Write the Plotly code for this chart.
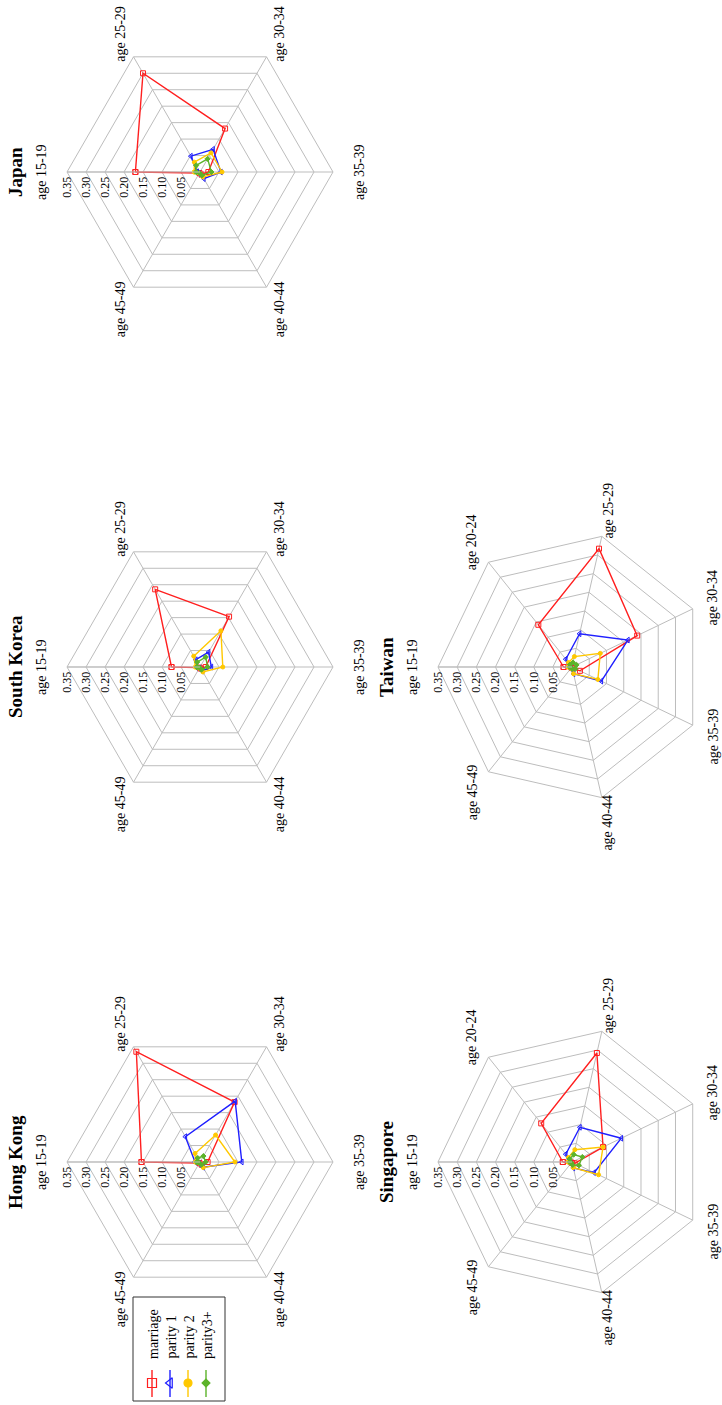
import math
import plotly.graph_objects as go

# ---------------- data ----------------
AGES6 = ["age 15-19", "age 25-29", "age 30-34", "age 35-39", "age 40-44", "age 45-49"]
AGES7 = ["age 15-19", "age 20-24", "age 25-29", "age 30-34", "age 35-39", "age 40-44", "age 45-49"]
SERIES = ["marriage", "parity 1", "parity 2", "parity3+"]
RADIAL_TICKS = [0.05, 0.10, 0.15, 0.20, 0.25, 0.30, 0.35]
RADIAL_LABELS = ["0.05", "0.10", "0.15", "0.20", "0.25", "0.30", "0.35"]

japan_marriage = [0.170, 0.300, 0.132, 0.022, 0.008, 0.003]
japan_parity1 = [0.008, 0.048, 0.069, 0.055, 0.020, 0.005]
japan_parity2 = [0.015, 0.030, 0.058, 0.058, 0.015, 0.004]
japan_parity3 = [0.010, 0.020, 0.040, 0.030, 0.010, 0.003]

korea_marriage = [0.075, 0.236, 0.153, 0.015, 0.005, 0.002]
korea_parity1 = [0.010, 0.022, 0.045, 0.030, 0.012, 0.003]
korea_parity2 = [0.012, 0.033, 0.110, 0.060, 0.015, 0.004]
korea_parity3 = [0.008, 0.015, 0.030, 0.020, 0.008, 0.002]

hk_marriage = [0.154, 0.335, 0.182, 0.020, 0.008, 0.003]
hk_parity1 = [0.013, 0.077, 0.185, 0.110, 0.016, 0.005]
hk_parity2 = [0.012, 0.026, 0.082, 0.092, 0.017, 0.004]
hk_parity3 = [0.008, 0.012, 0.018, 0.015, 0.008, 0.003]

taiwan_marriage = [0.022, 0.141, 0.317, 0.189, 0.023, 0.003, 0.002]
taiwan_parity1 = [0.010, 0.026, 0.089, 0.162, 0.085, 0.018, 0.005]
taiwan_parity2 = [0.010, 0.015, 0.028, 0.082, 0.075, 0.018, 0.005]
taiwan_parity3 = [0.005, 0.008, 0.012, 0.013, 0.010, 0.005, 0.003]

sing_marriage = [0.024, 0.129, 0.292, 0.090, 0.008, 0.003, 0.002]
sing_parity1 = [0.010, 0.026, 0.093, 0.143, 0.064, 0.016, 0.005]
sing_parity2 = [0.010, 0.015, 0.033, 0.090, 0.077, 0.015, 0.005]
sing_parity3 = [0.005, 0.010, 0.020, 0.030, 0.020, 0.008, 0.003]

# ---------------- layout helpers ----------------
W, H = 722, 1405
GRID = "#bdbdbd"
FONT = "Liberation Serif"

COLORS = ["#ff1f1f", "#1f1fff", "#ffc800", "#5cb32a"]
SYMBOLS = ["square-open", "triangle-left-open", "circle", "diamond"]
MSIZE = [5, 5, 4, 4]

panels = [
    dict(name="Japan", ages=AGES6, data=[japan_marriage, japan_parity1, japan_parity2, japan_parity3],
         cx=200, cy=172, R=133),
    dict(name="South Korea", ages=AGES6, data=[korea_marriage, korea_parity1, korea_parity2, korea_parity3],
         cx=200, cy=667, R=133),
    dict(name="Hong Kong", ages=AGES6, data=[hk_marriage, hk_parity1, hk_parity2, hk_parity3],
         cx=200, cy=1162, R=133),
    dict(name="Taiwan", ages=AGES7, data=[taiwan_marriage, taiwan_parity1, taiwan_parity2, taiwan_parity3],
         cx=572, cy=667, R=134),
    dict(name="Singapore", ages=AGES7, data=[sing_marriage, sing_parity1, sing_parity2, sing_parity3],
         cx=572, cy=1162, R=134),
]


def px(x):
    return x / W


def py(y):
    return 1 - y / H


fig = go.Figure()
annotations = []
layout_polars = {}

for i, p in enumerate(panels):
    key = "polar" if i == 0 else f"polar{i+1}"
    sub = key
    cx, cy, R = p["cx"], p["cy"], p["R"]
    layout_polars[key] = dict(
        domain=dict(x=[px(cx - R), px(cx + R)], y=[py(cy + R), py(cy - R)]),
        gridshape="linear",
        bgcolor="white",
        radialaxis=dict(range=[0, 0.35], tickvals=RADIAL_TICKS, ticktext=RADIAL_LABELS,
                        angle=180, tickangle=90, side="counterclockwise",
                        showline=True, linecolor=GRID, linewidth=1, gridcolor=GRID, gridwidth=1,
                        ticks="", tickfont=dict(family=FONT, size=12, color="black")),
        angularaxis=dict(type="category", categoryarray=p["ages"], direction="clockwise",
                         rotation=180, showticklabels=False, ticks="",
                         showline=True, linecolor=GRID, linewidth=1, gridcolor=GRID, gridwidth=1),
    )
    for s, vals in enumerate(p["data"]):
        fig.add_trace(go.Scatterpolar(
            r=list(vals) + [vals[0]], theta=list(p["ages"]) + [p["ages"][0]],
            mode="lines+markers", subplot=sub, showlegend=False, name=SERIES[s],
            line=dict(color=COLORS[s], width=1.4),
            marker=dict(symbol=SYMBOLS[s], size=MSIZE[s], color=COLORS[s],
                        line=dict(color=COLORS[s], width=1)),
        ))
    # category labels
    n = len(p["ages"])
    for k, lab in enumerate(p["ages"]):
        th = math.radians(180 - k * 360.0 / n)
        lx = cx + (R + 26) * math.cos(th)
        ly = cy - (R + 26) * math.sin(th)
        lx = min(lx, W - 9)
        annotations.append(dict(text=lab, x=px(lx), y=py(ly), xref="paper", yref="paper",
                                showarrow=False, textangle=-90, xanchor="center", yanchor="middle",
                                font=dict(family=FONT, size=14, color="black")))
    # title
    annotations.append(dict(text="<b>" + p["name"] + "</b>", x=px(cx - R - 52), y=py(cy),
                            xref="paper", yref="paper", showarrow=False, textangle=-90,
                            xanchor="center", yanchor="middle",
                            font=dict(family=FONT, size=19, color="black")))

# ---------------- legend (rotated, drawn manually) ----------------
LEG_X = [152, 170, 188, 206]
LEG_LINE = [1370, 1397]
LEG_MARK = 1383
for s in range(4):
    fig.add_trace(go.Scatter(x=[LEG_X[s], LEG_X[s]], y=LEG_LINE, mode="lines", showlegend=False,
                             line=dict(color=COLORS[s], width=1.4), xaxis="x", yaxis="y",
                             hoverinfo="skip"))
    fig.add_trace(go.Scatter(x=[LEG_X[s]], y=[LEG_MARK], mode="markers", showlegend=False,
                             marker=dict(symbol=SYMBOLS[s], size=[9, 9, 8, 6][s], color=COLORS[s],
                                         line=dict(color=COLORS[s], width=1.2)),
                             xaxis="x", yaxis="y", hoverinfo="skip"))
    annotations.append(dict(text=SERIES[s], x=px(LEG_X[s] + 1), y=py(1361), xref="paper", yref="paper",
                            showarrow=False, textangle=-90, xanchor="center", yanchor="bottom",
                            font=dict(family=FONT, size=14, color="black")))

shapes = [dict(type="rect", xref="paper", yref="paper", x0=px(133), x1=px(225), y0=py(1401), y1=py(1297),
               line=dict(color="#333333", width=1), fillcolor="rgba(0,0,0,0)")]

fig.update_layout(
    width=W, height=H, margin=dict(l=0, r=0, t=0, b=0),
    paper_bgcolor="white", plot_bgcolor="rgba(0,0,0,0)",
    xaxis=dict(domain=[0, 1], range=[0, W], visible=False, fixedrange=True),
    yaxis=dict(domain=[0, 1], range=[H, 0], visible=False, fixedrange=True),
    annotations=annotations, shapes=shapes, showlegend=False,
    **layout_polars,
)

fig.write_html("out.html")
